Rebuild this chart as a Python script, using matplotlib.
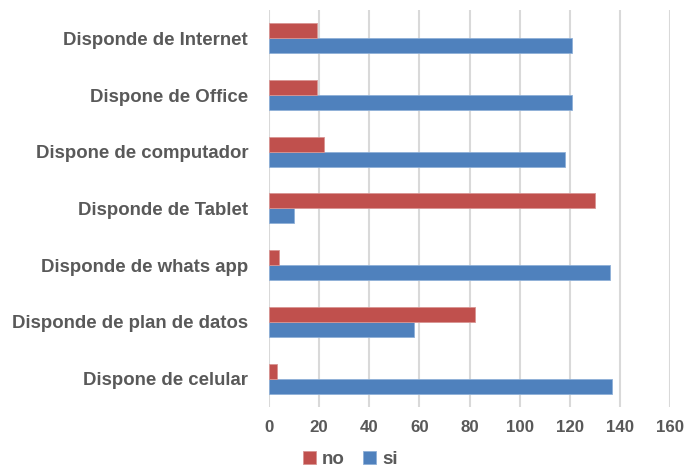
import numpy as np
import matplotlib
matplotlib.use('Agg')
import matplotlib.pyplot as plt

plt.rcParams['font.family'] = ['Liberation Sans', 'DejaVu Sans']

# Categories listed bottom to top
categories = ['Dispone de celular', 'Disponde de plan de datos', 'Disponde de whats app',
              'Disponde de Tablet', 'Dispone de computador', 'Dispone de Office',
              'Disponde de Internet']
no_vals = [3, 82, 4, 130, 22, 19, 19]
si_vals = [137, 58, 136, 10, 118, 121, 121]
xticks = [0, 20, 40, 60, 80, 100, 120, 140, 160]

red = '#C0504D'
blue = '#4F81BD'
text_color = '#595959'

fig = plt.figure(figsize=(6.87, 4.72), dpi=100)
ax = fig.add_axes([0.3916, 0.1377, 0.9753 - 0.3916, 0.979 - 0.1377])

y = np.arange(len(categories))
h = 0.265
ax.barh(y - h / 2, si_vals, height=h, color=blue, edgecolor='#8fb0d8', linewidth=0.6,
        label='si', zorder=3)
ax.barh(y + h / 2, no_vals, height=h, color=red, edgecolor='#d89593', linewidth=0.6,
        label='no', zorder=3)

ax.set_xlim(0, 160)
ax.set_ylim(-0.5, len(categories) - 0.5)
ax.set_xticks(xticks)
ax.set_yticks(y)
ax.set_yticklabels(categories)
ax.tick_params(axis='y', length=0, labelsize=13.4, labelcolor=text_color, pad=15)
ax.tick_params(axis='x', length=0, labelsize=12.2, labelcolor=text_color, pad=9)
for lbl in ax.get_xticklabels() + ax.get_yticklabels():
    lbl.set_fontweight('bold')

ax.grid(axis='x', color='#D9D9D9', linewidth=1.5, zorder=0)
ax.set_axisbelow(True)
for s in ax.spines.values():
    s.set_visible(False)

handles, labels = ax.get_legend_handles_labels()
leg = fig.legend(handles[::-1], labels[::-1], loc='center', bbox_to_anchor=(0.51, 0.026),
                 ncol=2, frameon=False, handlelength=0.7, handleheight=0.7,
                 handletextpad=0.3, columnspacing=1.0, borderpad=0.2,
                 prop={'size': 13.5, 'weight': 'bold'})
for t in leg.get_texts():
    t.set_color(text_color)

fig.savefig('out.png', dpi=100)
